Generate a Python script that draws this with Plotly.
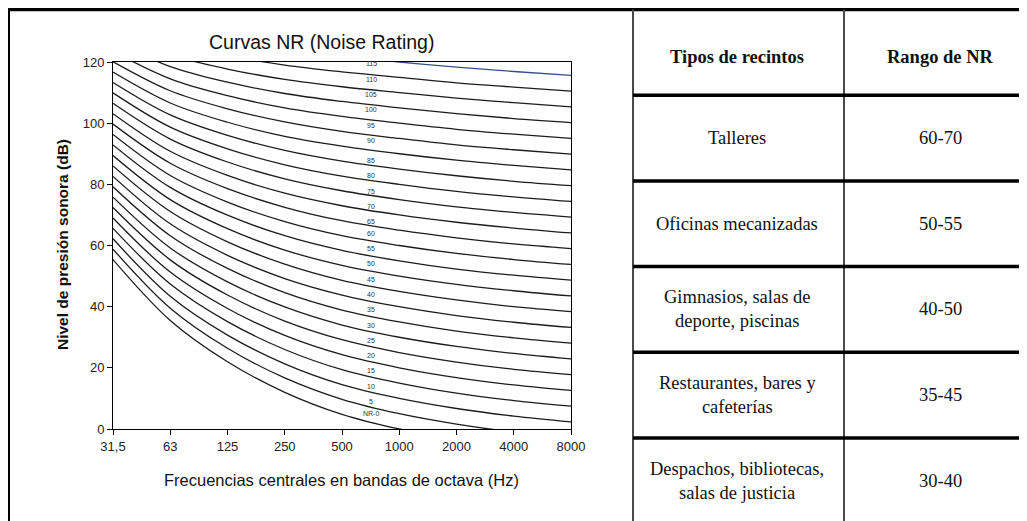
import plotly.graph_objects as go

# Bandas de octava (eje x) y curvas NR dibujadas
frecuencias = ["31,5", "63", "125", "250", "500", "1000", "2000", "4000", "8000"]
curvas_nr = [0, 5, 10, 15, 20, 25, 30, 35, 40, 45, 50, 55, 60,
             65, 70, 75, 80, 85, 90, 95, 100, 105, 110, 115, 120]

# Nivel de presion sonora (dB) de cada curva NR en cada banda
nivel_31_5 = [55.4, 58.8, 62.2, 65.6, 69.0, 72.4, 75.8, 79.2, 82.6, 86.0, 89.4, 92.9, 96.3,
              99.7, 103.1, 106.5, 109.9, 113.3, 116.7, 120.1, 123.5, 126.9, 130.3, 133.7, 137.1]
nivel_63 = [35.5, 39.5, 43.4, 47.4, 51.3, 55.3, 59.2, 63.2, 67.1, 71.1, 75.0, 79.0, 82.9,
            86.9, 90.8, 94.8, 98.7, 102.7, 106.6, 110.6, 114.5, 118.5, 122.4, 126.4, 130.3]
nivel_125 = [22.0, 26.4, 30.7, 35.1, 39.4, 43.8, 48.1, 52.5, 56.8, 61.2, 65.5, 69.9, 74.2,
             78.6, 82.9, 87.3, 91.6, 96.0, 100.3, 104.7, 109.0, 113.4, 117.7, 122.1, 126.4]
nivel_250 = [12.0, 16.7, 21.3, 26.0, 30.6, 35.3, 39.9, 44.6, 49.2, 53.9, 58.5, 63.2, 67.8,
             72.5, 77.1, 81.8, 86.4, 91.1, 95.7, 100.4, 105.0, 109.7, 114.3, 119.0, 123.6]
nivel_500 = [4.8, 9.7, 14.5, 19.4, 24.3, 29.2, 34.0, 38.9, 43.8, 48.6, 53.5, 58.4, 63.2,
             68.1, 73.0, 77.9, 82.7, 87.6, 92.5, 97.3, 102.2, 107.1, 111.9, 116.8, 121.7]
nivel_1000 = [0, 5, 10, 15, 20, 25, 30, 35, 40, 45, 50, 55, 60,
              65, 70, 75, 80, 85, 90, 95, 100, 105, 110, 115, 120]
nivel_2000 = [-3.5, 1.6, 6.7, 11.7, 16.8, 21.9, 27.0, 32.0, 37.1, 42.2, 47.3, 52.3, 57.4,
              62.5, 67.6, 72.6, 77.7, 82.8, 87.9, 92.9, 98.0, 103.1, 108.2, 113.2, 118.3]
nivel_4000 = [-6.1, -1.0, 4.2, 9.3, 14.4, 19.5, 24.7, 29.8, 34.9, 40.0, 45.2, 50.3, 55.4,
              60.5, 65.7, 70.8, 75.9, 81.0, 86.2, 91.3, 96.4, 101.5, 106.7, 111.8, 116.9]
nivel_8000 = [-8.0, -2.9, 2.3, 7.5, 12.6, 17.8, 22.9, 28.1, 33.2, 38.4, 43.5, 48.7, 53.8,
              59.0, 64.1, 69.3, 74.4, 79.6, 84.7, 89.9, 95.0, 100.2, 105.3, 110.5, 115.6]

# Tabla de recintos
recintos = ["Talleres", "Oficinas mecanizadas", "Gimnasios, salas de<br>deporte, piscinas",
            "Restaurantes, bares y<br>cafeterías", "Despachos, bibliotecas,<br>salas de justicia"]
rangos_nr = ["60-70", "50-55", "40-50", "35-45", "30-40"]
cabeceras = ["Tipos de recintos", "Rango de NR"]

W, H = 1027, 521
OFF = 8  # la pagina deja 8 px de margen alrededor del grafico
SANS = "Arial, Liberation Sans, sans-serif"
SERIF = "Times New Roman, Liberation Serif, serif"


def px(x):
    return (x - OFF) / W


def py(y):
    return 1 - (y - OFF) / H


bandas = [nivel_31_5, nivel_63, nivel_125, nivel_250, nivel_500,
          nivel_1000, nivel_2000, nivel_4000, nivel_8000]
xs = list(range(len(frecuencias)))

fig = go.Figure()
for k, nr in enumerate(curvas_nr):
    fig.add_trace(go.Scatter(
        x=xs, y=[b[k] for b in bandas], mode="lines",
        line=dict(color="#34508a" if nr == 120 else "#1c1c1c", width=1.3,
                  shape="spline", smoothing=1.0),
        hoverinfo="skip",
    ))


def label_y(nr):
    # etiquetas colocadas algo por encima de cada curva
    if nr >= 90:
        return nr + 4.4
    if nr >= 65:
        return nr + 2.8
    if nr == 0:
        return 5.0
    return nr + 4.0


annotations = []
for nr in curvas_nr[:-1]:
    annotations.append(dict(
        x=4.51, y=label_y(nr), xref="x", yref="y", showarrow=False,
        xanchor="center", yanchor="middle",
        text="NR-0" if nr == 0 else str(nr),
        font=dict(family="Liberation Sans Narrow, Arial Narrow, Liberation Sans", size=7, color="#333"),
    ))

# titulos del grafico
annotations += [
    dict(x=px(321), y=py(42), text="Curvas NR (Noise Rating)",
         font=dict(family=SANS, size=19.5, color="#111")),
    dict(x=px(63), y=py(245), textangle=-90, text="<b>Nivel de presión sonora (dB)</b>",
         font=dict(family=SANS, size=15.5, color="#111")),
    dict(x=px(341), y=py(480), text="Frecuencias centrales en bandas de octava (Hz)",
         font=dict(family=SANS, size=16.5, color="#111")),
]

# tabla: filas de 85.7 px desde y=9.5, columnas 633-844 y 844-1036
fila0, alto = 9.5, 85.7
col_bordes = [633, 844]
col_centros = [737, 940]


def fila_y(r):
    return py(fila0 + r * alto)


for j, cab in enumerate(cabeceras):
    annotations.append(dict(x=px(col_centros[j]), y=fila_y(0.56), text="<b>%s</b>" % cab,
                            font=dict(family=SERIF, size=18.5, color="#111")))
for i, (rec, rango) in enumerate(zip(recintos, rangos_nr)):
    for j, txt in enumerate([rec, rango]):
        annotations.append(dict(x=px(col_centros[j]), y=fila_y(i + 1.5), text=txt,
                                font=dict(family=SERIF, size=18.5, color="#111")))

for a in annotations:
    a.setdefault("xref", "paper")
    a.setdefault("yref", "paper")
    a.setdefault("showarrow", False)
    a.setdefault("xanchor", "center")
    a.setdefault("yanchor", "middle")

shapes = [
    # marco exterior
    dict(type="line", x0=px(6), x1=1, y0=py(9.5), y1=py(9.5), line=dict(color="black", width=3.5)),
    dict(type="line", x0=px(8), x1=px(8), y0=0, y1=py(8), line=dict(color="black", width=4)),
]
for c in col_bordes:
    shapes.append(dict(type="line", x0=px(c), x1=px(c), y0=0, y1=py(9.5),
                       line=dict(color="#4a4a4a", width=2)))
for r in range(1, len(recintos) + 1):
    shapes.append(dict(type="line", x0=px(633), x1=1, y0=fila_y(r), y1=fila_y(r),
                       line=dict(color="black", width=3.5)))
for s in shapes:
    s.update(xref="paper", yref="paper", layer="above")

fig.update_layout(
    width=W, height=H,
    margin=dict(l=0, r=0, t=0, b=0, autoexpand=False),
    paper_bgcolor="white", plot_bgcolor="white",
    showlegend=False, hovermode=False,
    annotations=annotations, shapes=shapes,
    xaxis=dict(domain=[px(113), px(571)], range=[0, 8], tickvals=xs, ticktext=frecuencias,
               showgrid=False, zeroline=False, showline=True, mirror=True, linecolor="black",
               linewidth=1, ticks="outside", ticklen=5, tickcolor="black",
               tickfont=dict(family=SANS, size=13, color="#222")),
    yaxis=dict(domain=[py(429), py(62)], range=[0, 120], tickvals=[0, 20, 40, 60, 80, 100, 120],
               showgrid=False, zeroline=False, showline=True, mirror=True, linecolor="black",
               linewidth=1, ticks="outside", ticklen=5, tickcolor="black",
               tickfont=dict(family=SANS, size=13, color="#222")),
)

fig.write_html("out.html")
